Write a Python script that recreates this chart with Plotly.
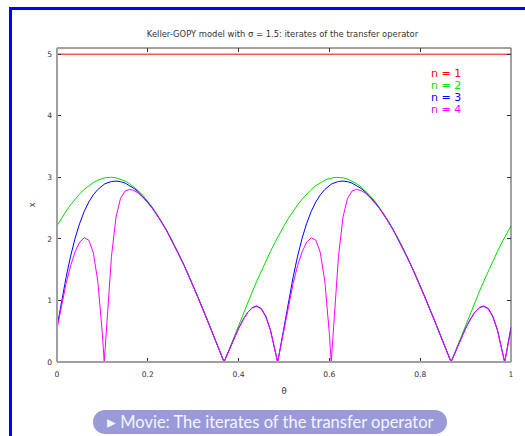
import plotly.graph_objects as go

# ---------------- data ----------------
theta = [0, 0.01, 0.02, 0.03, 0.04, 0.05, 0.06, 0.07, 0.08, 0.09, 0.095, 0.1, 0.104, 0.108, 0.11, 0.115,
         0.12, 0.13, 0.14, 0.15, 0.16, 0.17, 0.18, 0.19, 0.2, 0.21, 0.22, 0.23, 0.24, 0.25, 0.26, 0.27,
         0.28, 0.29, 0.3, 0.31, 0.32, 0.33, 0.34, 0.35, 0.36, 0.368, 0.37, 0.38, 0.39, 0.4, 0.41, 0.42,
         0.43, 0.44, 0.45, 0.46, 0.47, 0.48, 0.486, 0.49,
         0.5, 0.51, 0.52, 0.53, 0.54, 0.55, 0.56, 0.57, 0.58, 0.59, 0.595, 0.6, 0.604, 0.608, 0.61, 0.615,
         0.62, 0.63, 0.64, 0.65, 0.66, 0.67, 0.68, 0.69, 0.7, 0.71, 0.72, 0.73, 0.74, 0.75, 0.76, 0.77,
         0.78, 0.79, 0.8, 0.81, 0.82, 0.83, 0.84, 0.85, 0.86, 0.868, 0.87, 0.88, 0.89, 0.9, 0.91, 0.92,
         0.93, 0.94, 0.95, 0.96, 0.97, 0.98, 0.986, 0.99, 1.0]

theta_n1 = [0, 1]
x_n1 = [5, 5]

x_n2 = [2.212, 2.335, 2.449, 2.553, 2.647, 2.730, 2.803, 2.864, 2.915, 2.954, 2.969, 2.981, 2.989, 2.994, 2.996, 2.999,
        3.000, 2.992, 2.972, 2.940, 2.896, 2.842, 2.776, 2.699, 2.611, 2.513, 2.405, 2.288, 2.162, 2.027, 1.884, 1.733,
        1.576, 1.413, 1.244, 1.070, 0.892, 0.710, 0.526, 0.339, 0.152, 0.000, 0.037, 0.225, 0.413, 0.599, 0.782, 0.962,
        1.139, 1.311, 1.478, 1.639, 1.793, 1.941, 2.027, 2.081,
        2.212, 2.335, 2.449, 2.553, 2.647, 2.730, 2.803, 2.864, 2.915, 2.954, 2.969, 2.981, 2.989, 2.994, 2.996, 2.999,
        3.000, 2.992, 2.972, 2.940, 2.896, 2.842, 2.776, 2.699, 2.611, 2.513, 2.405, 2.288, 2.162, 2.027, 1.884, 1.733,
        1.576, 1.413, 1.244, 1.070, 0.892, 0.710, 0.526, 0.339, 0.152, 0.000, 0.037, 0.225, 0.413, 0.599, 0.782, 0.962,
        1.139, 1.311, 1.478, 1.639, 1.793, 1.941, 2.027, 2.081, 2.212]

x_n3 = [0.567, 0.984, 1.375, 1.720, 2.013, 2.253, 2.446, 2.598, 2.715, 2.803, 2.838, 2.867, 2.887, 2.902, 2.909, 2.923,
        2.932, 2.939, 2.929, 2.906, 2.868, 2.818, 2.756, 2.681, 2.596, 2.499, 2.393, 2.276, 2.151, 2.016, 1.874, 1.723,
        1.566, 1.403, 1.234, 1.060, 0.882, 0.700, 0.517, 0.332, 0.147, 0.000, 0.036, 0.215, 0.386, 0.546, 0.689, 0.805,
        0.884, 0.910, 0.868, 0.743, 0.526, 0.221, 0.000, 0.154,
        0.567, 0.984, 1.375, 1.720, 2.013, 2.253, 2.446, 2.598, 2.715, 2.803, 2.838, 2.867, 2.887, 2.902, 2.909, 2.923,
        2.932, 2.939, 2.929, 2.906, 2.868, 2.818, 2.756, 2.681, 2.596, 2.499, 2.393, 2.276, 2.151, 2.016, 1.874, 1.723,
        1.566, 1.403, 1.234, 1.060, 0.882, 0.700, 0.517, 0.332, 0.147, 0.000, 0.036, 0.215, 0.386, 0.546, 0.689, 0.805,
        0.884, 0.910, 0.868, 0.743, 0.526, 0.221, 0.000, 0.154, 0.567]

x_n4 = [0.540, 0.924, 1.273, 1.566, 1.792, 1.947, 2.018, 1.981, 1.777, 1.302, 0.925, 0.450, 0.000, 0.453, 0.686, 1.241,
        1.715, 2.355, 2.659, 2.778, 2.804, 2.784, 2.737, 2.670, 2.589, 2.495, 2.390, 2.274, 2.149, 2.015, 1.873, 1.723,
        1.566, 1.402, 1.234, 1.060, 0.881, 0.700, 0.517, 0.332, 0.147, 0.000, 0.036, 0.214, 0.386, 0.545, 0.687, 0.802,
        0.879, 0.903, 0.859, 0.732, 0.515, 0.215, 0.000, 0.148,
        0.540, 0.924, 1.273, 1.566, 1.792, 1.947, 2.018, 1.981, 1.777, 1.302, 0.925, 0.450, 0.000, 0.453, 0.686, 1.241,
        1.715, 2.355, 2.659, 2.778, 2.804, 2.784, 2.737, 2.670, 2.589, 2.495, 2.390, 2.274, 2.149, 2.015, 1.873, 1.723,
        1.566, 1.402, 1.234, 1.060, 0.881, 0.700, 0.517, 0.332, 0.147, 0.000, 0.036, 0.214, 0.386, 0.545, 0.687, 0.802,
        0.879, 0.903, 0.859, 0.732, 0.515, 0.215, 0.000, 0.148, 0.540]

series_names = ["n = 1", "n = 2", "n = 3", "n = 4"]
series_colors = ["#ff0000", "#00e000", "#0000ff", "#ff00ff"]

x_ticks = [0, 0.2, 0.4, 0.6, 0.8, 1]
x_ticklabels = ["0", "0.2", "0.4", "0.6", "0.8", "1"]
y_ticks = [0, 1, 2, 3, 4, 5]
y_ticklabels = ["0", "1", "2", "3", "4", "5"]

title_text = "Keller-GOPY model with \u03c3 = 1.5: iterates of the transfer operator"
button_text = "\u25b8 Movie: The iterates of the transfer operator"

assert len(theta) == len(x_n2) == len(x_n3) == len(x_n4)

# ---------------- figure ----------------
W, H = 525, 436
ML, MR, MT, MB = 57, 14, 48, 74
PW, PH = W - ML - MR, H - MT - MB


def px(xp):
    return (xp - ML) / PW


def py(yp):
    return (H - MB - yp) / PH


fig = go.Figure()
xs = [theta_n1, theta, theta, theta]
ys = [x_n1, x_n2, x_n3, x_n4]
for name, col, xv, yv in zip(series_names, series_colors, xs, ys):
    fig.add_trace(go.Scatter(x=xv, y=yv, mode="lines", name=name,
                             line=dict(color=col, width=1), showlegend=False))

tickfont = dict(family="DejaVu Sans", size=7.6, color="#333333")

fig.update_layout(
    width=W, height=H, autosize=False,
    margin=dict(l=ML, r=MR, t=MT, b=MB, pad=0),
    paper_bgcolor="white", plot_bgcolor="white",
    title=dict(text=title_text, font=dict(family="DejaVu Sans", size=8.4, color="#333333"),
               x=282.5 / W, xanchor="center", y=1 - 34 / H, yanchor="middle"),
    xaxis=dict(range=[0, 1], tickvals=x_ticks, ticktext=x_ticklabels, ticks="inside", ticklen=4,
               tickcolor="#333333", tickwidth=1, mirror="ticks", showline=False, showgrid=False,
               zeroline=False, tickfont=tickfont, ticklabelstandoff=6,
               title=dict(text="\u03b8", font=dict(family="DejaVu Sans", size=8.5, color="#333333"), standoff=10)),
    yaxis=dict(range=[0, 5.1], tickvals=y_ticks, ticktext=y_ticklabels, ticks="inside", ticklen=4,
               tickcolor="#333333", tickwidth=1, mirror="ticks", showline=False, showgrid=False,
               zeroline=False, tickfont=tickfont, ticklabelstandoff=4,
               title=dict(text="x", font=dict(family="DejaVu Sans", size=8, color="#333333"), standoff=10)),
)

shapes = []
# plot border: dark top/right, grey left/bottom
shapes.append(dict(type="line", xref="paper", yref="paper", x0=0, x1=1, y0=1, y1=1,
                   line=dict(color="#444444", width=1)))
shapes.append(dict(type="line", xref="paper", yref="paper", x0=1, x1=1, y0=0, y1=1,
                   line=dict(color="#444444", width=1)))
shapes.append(dict(type="line", xref="paper", yref="paper", x0=0, x1=1, y0=0, y1=0,
                   line=dict(color="#a0a0a0", width=2)))
shapes.append(dict(type="line", xref="paper", yref="paper", x0=0, x1=0, y0=0, y1=1,
                   line=dict(color="#a0a0a0", width=2)))
# slide frame (blue bars)
shapes.append(dict(type="rect", xref="paper", yref="paper", x0=px(9), x1=px(W + 2), y0=py(10), y1=py(7),
                   fillcolor="#0000ff", line=dict(width=0)))
shapes.append(dict(type="rect", xref="paper", yref="paper", x0=px(9), x1=px(12), y0=py(H + 2), y1=py(7),
                   fillcolor="#0000ff", line=dict(width=0)))
# button pill
hw, hh, k = 177, 12, 6.63
pill = (f"M {-hw+hh},{-hh} L {hw-hh},{-hh} C {hw-hh+k},{-hh} {hw},{-k} {hw},0 "
        f"C {hw},{k} {hw-hh+k},{hh} {hw-hh},{hh} L {-hw+hh},{hh} "
        f"C {-hw+hh-k},{hh} {-hw},{k} {-hw},0 C {-hw},{-k} {-hw+hh-k},{-hh} {-hw+hh},{-hh} Z")
shapes.append(dict(type="path", xref="paper", yref="paper", xsizemode="pixel", ysizemode="pixel",
                   xanchor=px(270), yanchor=py(422), path=pill,
                   fillcolor="#9a9ad9", line=dict(width=0)))
fig.update_layout(shapes=shapes)

annotations = []
legend_y = [73.5, 85.5, 97.5, 109.5]
for name, col, yy in zip(series_names, series_colors, legend_y):
    annotations.append(dict(text=name, xref="paper", yref="paper", x=px(429), y=py(yy),
                            xanchor="left", yanchor="middle", showarrow=False,
                            font=dict(family="DejaVu Sans", size=11, color=col)))
annotations.append(dict(text=button_text, xref="paper", yref="paper", x=px(270), y=py(422),
                        xanchor="center", yanchor="middle", showarrow=False,
                        font=dict(family="Lato", size=16.5, color="#f4f4ff")))
fig.update_layout(annotations=annotations)

fig.write_html("out.html")
